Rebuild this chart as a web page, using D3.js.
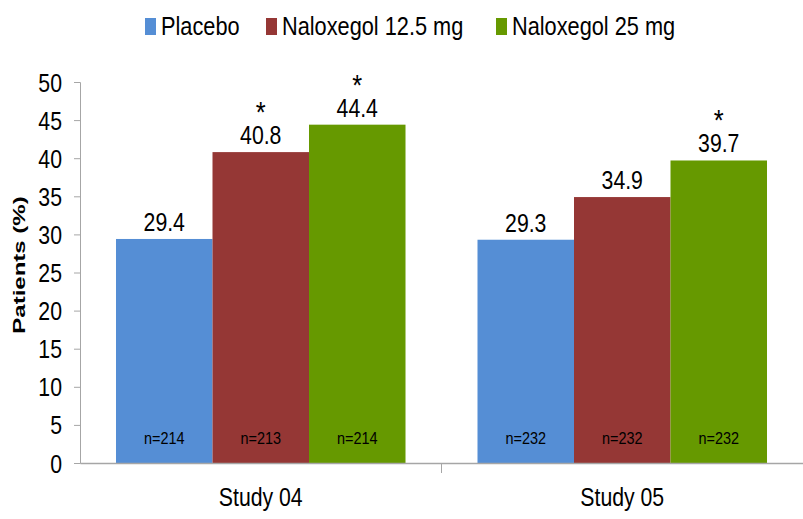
<!DOCTYPE html>
<html>
<head>
<meta charset="utf-8">
<script src="https://cdn.jsdelivr.net/npm/d3@7"></script>
<style>
  html, body { margin: 0; padding: 0; background: #fff; }
  svg { display: block; }
  text { font-family: "Liberation Sans", Arial, sans-serif; }
</style>
</head>
<body>
<svg id="chart" width="803" height="519"></svg>
<script>
// Responder rates per study and treatment arm
const studies = ["Study 04", "Study 05"];
const seriesNames = ["Placebo", "Naloxegol 12.5 mg", "Naloxegol 25 mg"];
const seriesColors = ["#558ed5", "#953735", "#669900"];
const study04Values = [29.4, 40.8, 44.4];
const study05Values = [29.3, 34.9, 39.7];
const study04N = [214, 213, 214];
const study05N = [232, 232, 232];
const study04Signif = [false, true, true];
const study05Signif = [false, false, true];
const yTicks = [0, 5, 10, 15, 20, 25, 30, 35, 40, 45, 50];

const valuesByStudy = [study04Values, study05Values];
const nByStudy = [study04N, study05N];
const signifByStudy = [study04Signif, study05Signif];

const rows = [];
studies.forEach((s, i) => {
  seriesNames.forEach((name, j) => {
    rows.push({ study: s, series: name, value: valuesByStudy[i][j], n: nByStudy[i][j], sig: signifByStudy[i][j], color: seriesColors[j] });
  });
});

const svg = d3.select("#chart");
const plotLeft = 80, plotRight = 803, plotTop = 82, plotBottom = 463;
const squeezeX = 0.85; // condensed lettering

// Narrow a text horizontally around its anchor point
function condense(sel, sx = squeezeX) {
  sel.each(function () {
    const t = d3.select(this);
    const x = +(t.attr("x") || 0), y = +(t.attr("y") || 0);
    t.attr("x", 0).attr("y", 0)
     .attr("transform", `translate(${x},${y}) scale(${sx},1)`);
  });
}

const y = d3.scaleLinear().domain([0, 50]).range([plotBottom, plotTop]);
const x0 = d3.scaleBand().domain(studies).range([plotLeft, plotRight]).paddingInner(0).paddingOuter(0);
const x1 = d3.scaleBand().domain(seriesNames).range([0, x0.bandwidth()]).paddingInner(0).paddingOuter(0.373);

const axisColor = "#a6a6a6";

// Bars
svg.append("g").selectAll("rect").data(rows).join("rect")
  .attr("x", d => x0(d.study) + x1(d.series))
  .attr("y", d => y(d.value))
  .attr("width", x1.bandwidth())
  .attr("height", d => y(0) - y(d.value))
  .attr("fill", d => d.color);

// Y axis
const yAxis = svg.append("g").attr("transform", `translate(${plotLeft},0)`)
  .call(d3.axisLeft(y).tickValues(yTicks).tickSize(6).tickPadding(12));
yAxis.select(".domain").attr("stroke", axisColor).attr("stroke-width", 1);
yAxis.selectAll(".tick line").attr("stroke", axisColor);
yAxis.selectAll(".tick text")
  .attr("font-size", 25)
  .attr("font-family", "'Liberation Sans', Arial, sans-serif")
  .attr("fill", "#000")
  .attr("dy", "0.36em")
  .call(condense);

// X axis
const xAxis = svg.append("g").attr("transform", `translate(0,${plotBottom})`)
  .call(d3.axisBottom(x0).tickSize(0).tickPadding(0));
xAxis.select(".domain").attr("stroke", axisColor).attr("stroke-width", 1.5);
xAxis.selectAll(".tick text")
  .attr("font-size", 25)
  .attr("font-family", "'Liberation Sans', Arial, sans-serif")
  .attr("fill", "#000")
  .attr("dy", null)
  .attr("y", 43)
  .call(condense);
// boundary tick between the two studies
svg.append("line")
  .attr("x1", x0("Study 05")).attr("x2", x0("Study 05"))
  .attr("y1", plotBottom).attr("y2", plotBottom + 10)
  .attr("stroke", axisColor);

const labels = svg.append("g").attr("text-anchor", "middle").attr("fill", "#000");
const barMid = d => x0(d.study) + x1(d.series) + x1.bandwidth() / 2;

// Value labels, with a significance asterisk line above where applicable
const valLabels = labels.selectAll("text.val").data(rows).join("text")
  .attr("class", "val")
  .attr("x", barMid)
  .attr("y", d => y(d.value) - 8)
  .attr("font-size", 25);
valLabels.filter(d => d.sig).append("tspan")
  .attr("x", 0).attr("dy", -22)
  .attr("font-size", 30)
  .text("*");
valLabels.append("tspan")
  .attr("x", 0).attr("dy", d => d.sig ? 22 : 0)
  .text(d => d.value.toFixed(1));
valLabels.call(condense);

// Sample sizes
labels.selectAll("text.n").data(rows).join("text")
  .attr("class", "n")
  .attr("x", barMid)
  .attr("y", plotBottom - 19)
  .attr("font-size", 17)
  .text(d => "n=" + d.n)
  .call(condense);

// Y axis title
svg.append("text")
  .attr("transform", `translate(25,${265}) rotate(-90) scale(1,0.72)`)
  .attr("text-anchor", "middle")
  .attr("font-weight", "bold")
  .attr("font-size", 24)
  .text("Patients (%)");

// Legend
const legendX = [145, 266, 496];
const legend = svg.append("g");
seriesNames.forEach((name, i) => {
  legend.append("rect")
    .attr("x", legendX[i]).attr("y", 18)
    .attr("width", 11).attr("height", 17)
    .attr("fill", seriesColors[i]);
  legend.append("text")
    .attr("x", legendX[i] + 16).attr("y", 35)
    .attr("font-size", 25)
    .text(name)
    .call(condense, 0.87);
});
</script>
</body>
</html>
